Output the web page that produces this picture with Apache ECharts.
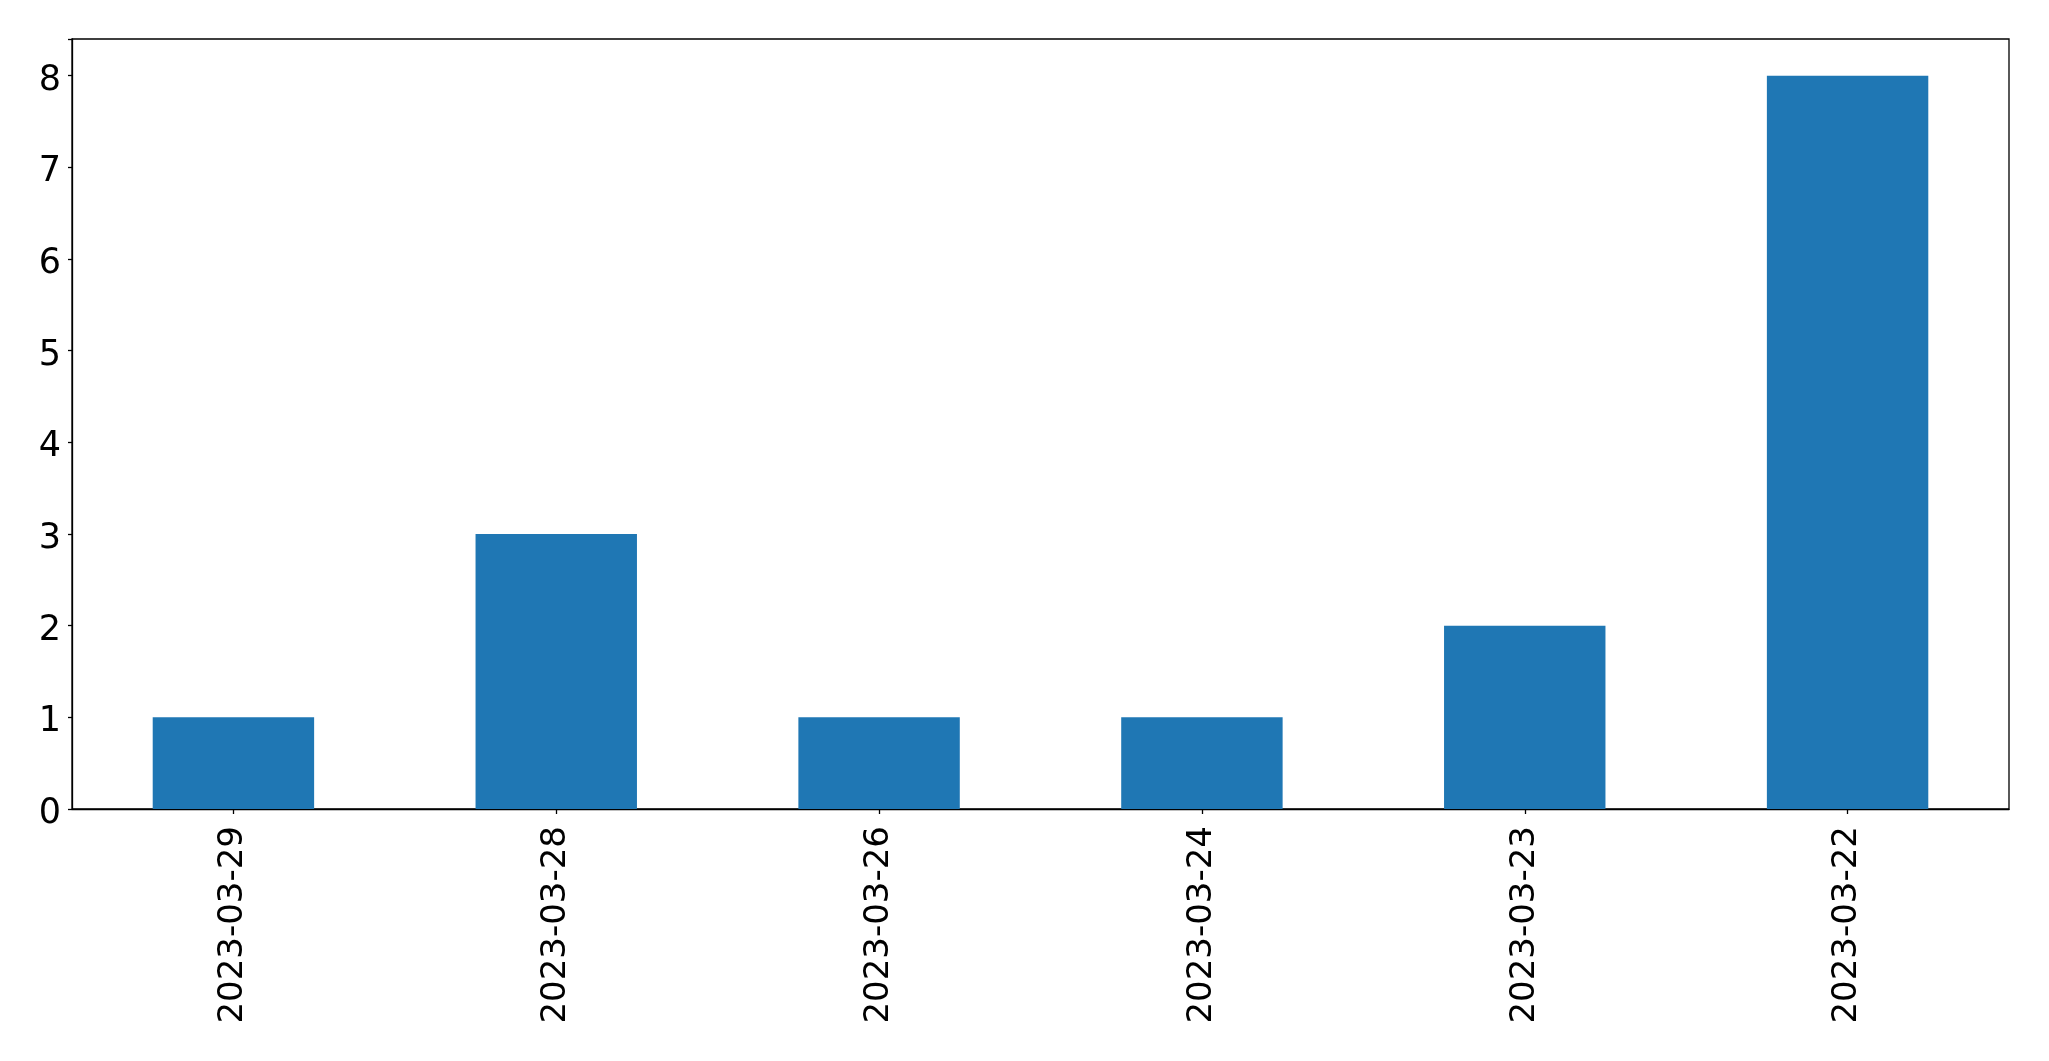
<!DOCTYPE html>
<html>
<head>
<meta charset="utf-8">
<script src="https://cdn.jsdelivr.net/npm/echarts@6/dist/echarts.min.js"></script>
<style>
html,body{margin:0;padding:0;background:#fff;}
#chart{width:2049px;height:1061px;}
</style>
</head>
<body>
<div id="chart"></div>
<script>
const categories = ['2023-03-29','2023-03-28','2023-03-26','2023-03-24','2023-03-23','2023-03-22'];
const values = [1, 3, 1, 1, 2, 8];
const yTicks = [0,1,2,3,4,5,6,7,8];

const chart = echarts.init(document.getElementById('chart'), null, {renderer:'canvas'});
const font = 'DejaVu Sans';
chart.setOption({
  animation: false,
  backgroundColor: '#ffffff',
  grid: {left: 72, right: 40, top: 39, bottom: 252, show: true, borderColor: '#000', borderWidth: 1.3, backgroundColor: 'transparent'},
  xAxis: {
    type: 'category',
    data: categories,
    boundaryGap: true,
    axisLine: {show: true, lineStyle: {color: '#000', width: 1.3}},
    axisTick: {show: true, alignWithLabel: true, length: 5, lineStyle: {color: '#000', width: 1.3}},
    axisLabel: {rotate: 90, fontFamily: font, fontSize: 34, color: '#000', margin: 17, interval: 0},
    splitLine: {show: false}
  },
  yAxis: {
    type: 'value',
    min: 0, max: 8.4, interval: 1,
    axisLine: {show: true, lineStyle: {color: '#000', width: 1.3}},
    axisTick: {show: true, length: 4, lineStyle: {color: '#000', width: 1.3}},
    axisLabel: {fontFamily: font, fontSize: 35, color: '#000', margin: 11,
      formatter: function(v){ return yTicks.indexOf(v) >= 0 ? '{a|' + v + '}' : ''; },
      rich: {a: {fontFamily: font, fontSize: 35, color: '#000', lineHeight: 40, padding: [10,0,0,0]}}},
    splitLine: {show: false}
  },
  series: [{
    type: 'bar',
    data: values,
    barWidth: '50%',
    itemStyle: {color: '#1f77b4'}
  }]
});
</script>
</body>
</html>
